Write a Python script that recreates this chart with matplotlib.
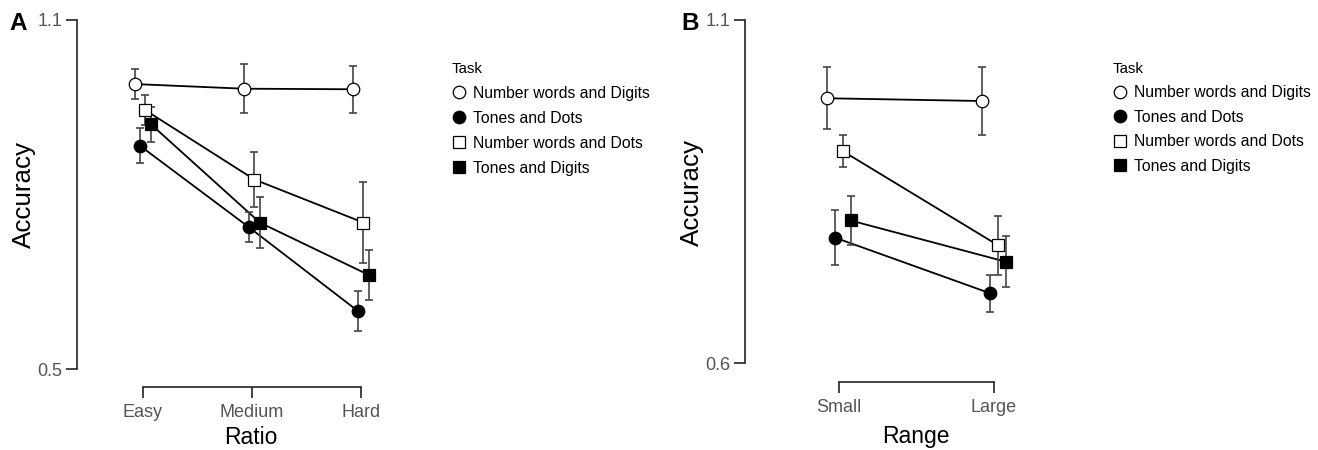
import matplotlib
matplotlib.use('Agg')
import matplotlib.pyplot as plt
from matplotlib.lines import Line2D
import numpy as np

plt.rcParams['font.family'] = ['Liberation Sans', 'DejaVu Sans']

# ---------------- data ----------------
tasks = ['Number words and Digits', 'Tones and Dots',
         'Number words and Dots', 'Tones and Digits']
ratio_levels = ['Easy', 'Medium', 'Hard']
range_levels = ['Small', 'Large']

# Panel A (Ratio)
nwdig_A = [0.990, 0.982, 0.981]
nwdig_A_se = [0.026, 0.042, 0.040]
tdots_A = [0.884, 0.744, 0.600]
tdots_A_se = [0.030, 0.026, 0.035]
nwdots_A = [0.945, 0.826, 0.752]
nwdots_A_se = [0.026, 0.048, 0.070]
tdig_A = [0.921, 0.752, 0.662]
tdig_A_se = [0.030, 0.044, 0.043]

# Panel B (Range)
nwdig_B = [0.986, 0.982]
nwdig_B_se = [0.045, 0.050]
tdots_B = [0.783, 0.702]
tdots_B_se = [0.040, 0.027]
nwdots_B = [0.909, 0.772]
nwdots_B_se = [0.023, 0.043]
tdig_B = [0.808, 0.748]
tdig_B_se = [0.035, 0.037]

yticks_A = [0.5, 1.1]
yticks_B = [0.6, 1.1]

# ---------------- style ----------------
W, H = 1318, 450
def fx(px): return px / W
def fy(py): return 1 - py / H

markers = ['o', 'o', 's', 's']
faces = ['white', 'black', 'white', 'black']
msizes = [9.0, 9.0, 8.2, 8.2]
offsets = [-0.075, -0.025, 0.025, 0.075]
TICKCOL = '#555555'

fig = plt.figure(figsize=(W / 100, H / 100), dpi=100)


def draw_panel(ax, levels, series, ses, yticks, xlim, outward):
    x = np.arange(len(levels))
    for i, (m, se) in enumerate(zip(series, ses)):
        xx = x + offsets[i]
        ax.plot(xx, m, color='black', lw=1.3, zorder=2, clip_on=False)
        ax.errorbar(xx, m, yerr=se, fmt='none', ecolor='#444444',
                    elinewidth=1.2, capsize=3.2, capthick=1.2, zorder=3,
                    clip_on=False)
        ax.plot(xx, m, ls='none', marker=markers[i], ms=msizes[i],
                mfc=faces[i], mec='black', mew=0.9, zorder=4 + i,
                clip_on=False)
    ax.set_ylim(yticks[0], yticks[-1])
    ax.set_xlim(*xlim)
    ax.set_yticks(yticks, [f'{t:.1f}' for t in yticks])
    ax.set_xticks(x, levels)
    for s in ['top', 'right']:
        ax.spines[s].set_visible(False)
    for s in ['left', 'bottom']:
        ax.spines[s].set_linewidth(1.2)
        ax.spines[s].set_color('#222222')
    ax.spines['bottom'].set_position(('outward', outward))
    ax.spines['bottom'].set_bounds(0, len(levels) - 1)
    ax.tick_params(axis='both', direction='out', length=7.7, width=1.2,
                   color='#222222', labelsize=13, labelcolor=TICKCOL)
    ax.tick_params(axis='y', pad=3)
    ax.tick_params(axis='x', pad=4)
    ax.patch.set_alpha(0)


def make_legend(x_px, y_px, spacing):
    handles = [Line2D([], [], ls='none', marker=markers[i], ms=msizes[i],
                      mfc=faces[i], mec='black', mew=0.9)
               for i in range(4)]
    leg = fig.legend(handles, tasks, loc='upper left',
                     bbox_to_anchor=(fx(x_px), fy(y_px)),
                     frameon=False, title='Task', title_fontsize=10.8,
                     fontsize=11.3, alignment='left', handlelength=0.9,
                     handletextpad=0.45, labelspacing=spacing, borderpad=0,
                     borderaxespad=0)
    return leg


# Panel A
axA = fig.add_axes([fx(77.3), fy(369.3), fx(390) - fx(77.3), (369.3 - 20) / H])
draw_panel(axA, ratio_levels,
           [nwdig_A, tdots_A, nwdots_A, tdig_A],
           [nwdig_A_se, tdots_A_se, nwdots_A_se, tdig_A_se],
           yticks_A, (-0.6, 2.269), 13)

# Panel B
axB = fig.add_axes([fx(745), fy(363.3), fx(1030) - fx(745), (363.3 - 20) / H])
draw_panel(axB, range_levels,
           [nwdig_B, tdots_B, nwdots_B, tdig_B],
           [nwdig_B_se, tdots_B_se, nwdots_B_se, tdig_B_se],
           yticks_B, (-0.606, 1.232), 13.7)

make_legend(452, 62, 0.63)
make_legend(1113, 62, 0.60)

# axis labels
fig.text(fx(24), fy(195), 'Accuracy', rotation=90, ha='center', va='center', fontsize=18.7)
fig.text(fx(692), fy(193), 'Accuracy', rotation=90, ha='center', va='center', fontsize=18.7)
fig.text(fx(251), fy(437), 'Ratio', ha='center', va='center', fontsize=16.5)
fig.text(fx(916), fy(436), 'Range', ha='center', va='center', fontsize=16.5)

# panel letters
fig.text(fx(9), fy(30), 'A', ha='left', va='baseline', fontsize=17.5, weight='bold')
fig.text(fx(681), fy(30), 'B', ha='left', va='baseline', fontsize=17.5, weight='bold')

fig.savefig('out.png', dpi=100)
